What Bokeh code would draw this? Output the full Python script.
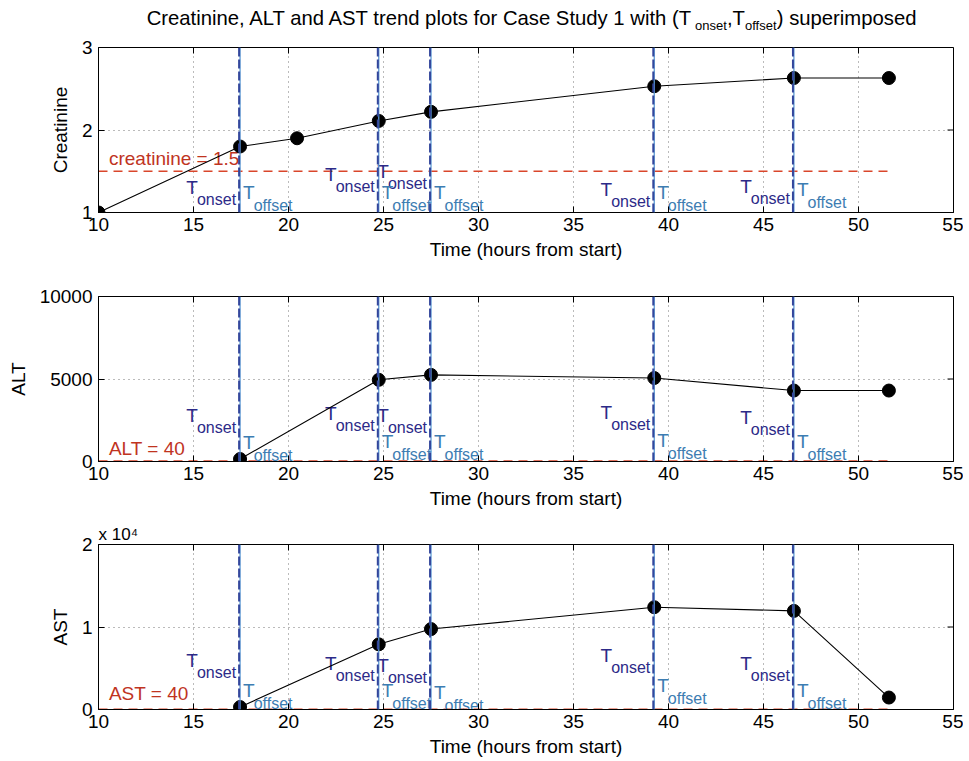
from bokeh.plotting import figure
from bokeh.layouts import column
from bokeh.models import FixedTicker, Range1d, Span
from bokeh.core.properties import value
from bokeh.embed import file_html
from bokeh.resources import INLINE

FONT = "Liberation Sans"

# ---------------- data ----------------
creat_time = [10.0, 17.45, 20.45, 24.75, 27.5, 39.25, 46.6, 51.6]
creatinine = [1.0, 1.8, 1.9, 2.11, 2.22, 2.53, 2.63, 2.63]

liver_time = [17.45, 24.75, 27.5, 39.25, 46.6, 51.6]
alt = [150, 4950, 5250, 5060, 4300, 4300]
ast = [300, 7900, 9750, 12400, 11950, 1450]

onset_times = [17.4, 24.7, 27.45, 39.2, 46.55]
offset_times = [17.45, 24.75, 27.5, 39.25, 46.6]

creat_threshold = 1.5
alt_threshold = 40
ast_threshold = 40

x_range = (10, 55)
x_ticks = [10, 15, 20, 25, 30, 35, 40, 45, 50, 55]
creat_ticks = [1, 2, 3]
alt_ticks = [0, 5000, 10000]
ast_ticks = [0, 10000, 20000]
ast_tick_labels = {0: "0", 10000: "1", 20000: "2"}

# label heights (data units) for T_onset / T_offset annotations
creat_onset_label_y = [1.30, 1.46, 1.50, 1.28, 1.32]
creat_offset_label_y = [1.24, 1.24, 1.24, 1.24, 1.28]
alt_onset_label_y = [2790, 2900, 2790, 2980, 2680]
alt_offset_label_y = [1170, 1230, 1230, 1270, 1230]
ast_onset_label_y = [5940, 5540, 5330, 6550, 5540]
ast_offset_label_y = [2300, 2300, 2100, 2900, 2300]

# ---------------- styles ----------------
ONSET_TXT = "#2c2a88"
OFFSET_TXT = "#3d7db2"
ONSET_LINE = "#34479c"
OFFSET_LINE = "#5b9ad4"
RED_TXT = "#c0341f"
RED_LINE = "#d9462b"

T_SIZE = 19
SUB_SIZE = 16
SUB_W = 2.446 * SUB_SIZE   # width of "onset"/"offset" in Liberation Sans
T_W = 0.611 * T_SIZE

FRAME_W = 855
FRAME_H = 165
BORDER_L = 98
BORDER_R = 10
TICK_LEN = 6               # px, inward ticks on the top / right edges


def bare_strip(height):
    s = figure(frame_width=FRAME_W, frame_height=height,
               x_range=Range1d(*x_range), y_range=Range1d(0, 1),
               output_backend="svg", toolbar_location=None,
               x_axis_type=None, y_axis_type=None,
               min_border_left=BORDER_L, min_border_right=BORDER_R,
               min_border_top=0, min_border_bottom=0,
               background_fill_color="white", border_fill_color="white")
    s.outline_line_color = None
    s.grid.visible = False
    return s


def make_panel(t, y, yr, yticks, ylabel, thr, thr_text, thr_y, on_y, off_y,
               b_top, b_bottom, overrides=None, corner_title=None):
    p = figure(frame_width=FRAME_W, frame_height=FRAME_H,
               x_range=Range1d(*x_range), y_range=Range1d(*yr),
               output_backend="svg", toolbar_location=None,
               min_border_left=BORDER_L, min_border_right=BORDER_R,
               min_border_top=b_top, min_border_bottom=b_bottom,
               background_fill_color="white", border_fill_color="white")
    if corner_title:
        p.title.text = corner_title
        p.title.align = "left"
        p.title.text_font = FONT
        p.title.text_font_size = "17px"
        p.title.text_font_style = "normal"
        p.title.text_color = "black"
        p.title.standoff = 1
        p.title.offset = 0
    p.outline_line_color = "black"
    p.outline_line_width = 1

    xa = p.xaxis[0]
    ya = p.yaxis[0]
    xa.ticker = FixedTicker(ticks=x_ticks)
    ya.ticker = FixedTicker(ticks=yticks)
    if overrides:
        ya.major_label_overrides = overrides
    xa.axis_label = "Time (hours from start)"
    ya.axis_label = ylabel

    for ax in (xa, ya):
        ax.major_label_text_font = FONT
        ax.major_label_text_font_size = "19px"
        ax.major_label_text_color = "black"
        ax.axis_label_text_font = FONT
        ax.axis_label_text_font_style = "normal"
        ax.axis_label_text_font_size = "19px"
        ax.axis_label_text_color = "black"
        ax.major_tick_in = TICK_LEN
        ax.major_tick_out = 0
        ax.minor_tick_in = 0
        ax.minor_tick_out = 0
        ax.axis_line_color = "black"
        ax.major_tick_line_color = "black"
    xa.major_label_standoff = 5
    xa.axis_label_standoff = 5
    ya.major_label_standoff = 6
    ya.axis_label_standoff = 8

    p.grid.grid_line_color = "#555555"
    p.grid.grid_line_dash = "1 4"
    p.grid.grid_line_alpha = 0.8

    # inward ticks on the top and right edges of the box
    dy = (yr[1] - yr[0]) * TICK_LEN / FRAME_H
    dx = (x_range[1] - x_range[0]) * TICK_LEN / FRAME_W
    p.segment(x0=x_ticks, y0=[yr[1]] * len(x_ticks), x1=x_ticks,
              y1=[yr[1] - dy] * len(x_ticks), line_color="black", line_width=1)
    p.segment(x0=[x_range[1]] * len(yticks), y0=yticks, x1=[x_range[1] - dx] * len(yticks),
              y1=yticks, line_color="black", line_width=1)

    # onset / offset vertical lines
    for xf in offset_times:
        p.add_layout(Span(location=xf, dimension="height", line_color=OFFSET_LINE,
                          line_width=1.3))
    for xo in onset_times:
        p.add_layout(Span(location=xo, dimension="height", line_color=ONSET_LINE,
                          line_width=2, line_dash="9 3"))

    # threshold line
    p.line([creat_time[0], t[-1]], [thr, thr], line_color=RED_LINE, line_width=1.3,
           line_dash="9 6")
    p.text(x=[10.55], y=[thr_y], text=[thr_text], text_font=value(FONT),
           text_font_size="19px", text_color=RED_TXT, text_baseline="middle",
           text_align="left")

    # T labels
    n = len(onset_times)
    p.text(x=onset_times, y=on_y, text=["T"] * n, text_font=value(FONT),
           text_font_size=f"{T_SIZE}px", text_color=ONSET_TXT, text_align="right",
           text_baseline="middle", x_offset=-(2 + SUB_W))
    p.text(x=onset_times, y=on_y, text=["onset"] * n, text_font=value(FONT),
           text_font_size=f"{SUB_SIZE}px", text_color=ONSET_TXT, text_align="right",
           text_baseline="middle", x_offset=-3, y_offset=12)
    p.text(x=offset_times, y=off_y, text=["T"] * n, text_font=value(FONT),
           text_font_size=f"{T_SIZE}px", text_color=OFFSET_TXT, text_align="left",
           text_baseline="middle", x_offset=3)
    p.text(x=offset_times, y=off_y, text=["offset"] * n, text_font=value(FONT),
           text_font_size=f"{SUB_SIZE}px", text_color=OFFSET_TXT, text_align="left",
           text_baseline="middle", x_offset=2 + T_W, y_offset=13)

    # data
    p.line(t, y, line_color="black", line_width=1.1)
    p.scatter(t, y, size=13, fill_color="black", line_color="black")
    return p


# ---------------- title strip ----------------
title_fig = bare_strip(34)
TF = 20.3
SF = 13
anchor_x = 41.4          # where the first subscript starts
MAIN_Y, SUB_Y = 0.485, 0.26
w_sub = 2.446 * SF
w_comma_t = 0.889 * TF
title_fig.text(x=[anchor_x], y=[MAIN_Y], text=["Creatinine, ALT and AST trend plots for Case Study 1 with (T"],
               text_font=value(FONT), text_font_size=f"{TF}px", text_color="black",
               text_baseline="middle", text_align="right", x_offset=-1)
title_fig.text(x=[anchor_x], y=[SUB_Y], text=["onset"], text_font=value(FONT),
               text_font_size=f"{SF}px", text_color="black", text_baseline="middle",
               text_align="left")
title_fig.text(x=[anchor_x], y=[MAIN_Y], text=[",T"], x_offset=w_sub,
               text_font=value(FONT), text_font_size=f"{TF}px", text_color="black",
               text_baseline="middle", text_align="left")
title_fig.text(x=[anchor_x], y=[SUB_Y], text=["offset"], x_offset=w_sub + w_comma_t,
               text_font=value(FONT), text_font_size=f"{SF}px", text_color="black",
               text_baseline="middle", text_align="left")
title_fig.text(x=[anchor_x], y=[MAIN_Y], text=[") superimposed"],
               x_offset=2 * w_sub + w_comma_t, text_font=value(FONT),
               text_font_size=f"{TF}px", text_color="black", text_baseline="middle",
               text_align="left")

p1 = make_panel(creat_time, creatinine, (1, 3), creat_ticks, "Creatinine",
                creat_threshold, "creatinine = 1.5", 1.66,
                creat_onset_label_y, creat_offset_label_y, 13, 57)
p2 = make_panel(liver_time, alt, (0, 10000), alt_ticks, "ALT",
                alt_threshold, "ALT = 40", 790,
                alt_onset_label_y, alt_offset_label_y, 27, 57)
p3 = make_panel(liver_time, ast, (0, 20000), ast_ticks, "AST",
                ast_threshold, "AST = 40", 1940,
                ast_onset_label_y, ast_offset_label_y, 26, 44, ast_tick_labels,
                corner_title="x 10\u2074")

layout = column(title_fig, p1, p2, p3, spacing=0)
open("out.html", "w").write(file_html(layout, INLINE))
